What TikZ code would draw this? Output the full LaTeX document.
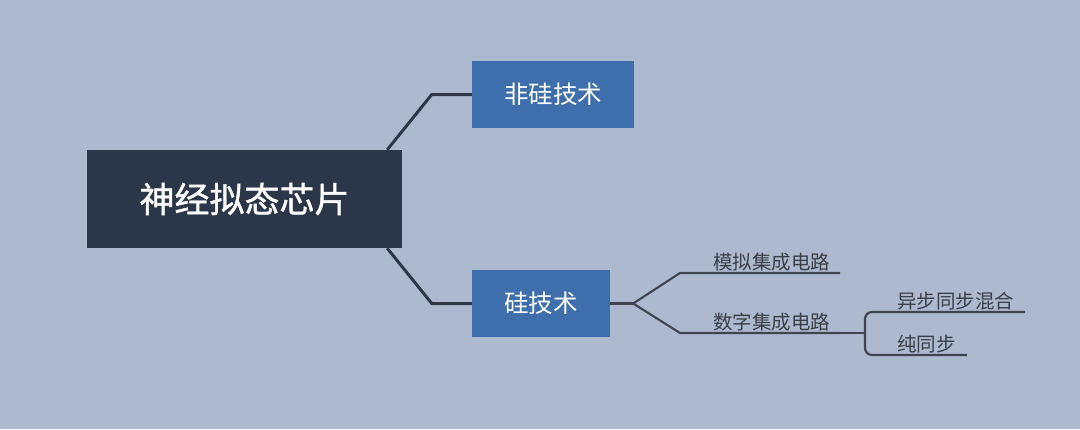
\documentclass[tikz,border=0pt]{standalone}
\usepackage{fontspec}
\setmainfont{Noto Sans CJK SC}
\newfontfamily\rootfont{Noto Sans CJK SC}[FakeBold=1.2]
\usetikzlibrary{positioning}

\definecolor{bgblue}{RGB}{173,185,206}
\definecolor{rootnavy}{RGB}{43,54,72}
\definecolor{boxblue}{RGB}{62,111,172}
\definecolor{linedark}{RGB}{46,55,72}
\definecolor{twiggray}{RGB}{62,68,80}
\definecolor{txtgray}{RGB}{58,62,70}

\tikzset{
  rootbox/.style={fill=rootnavy, text=white, inner sep=0pt,
    minimum width=315pt, minimum height=98pt, font=\rootfont\fontsize{35}{35}\selectfont},
  subbox/.style={fill=boxblue, text=white, inner sep=0pt,
    minimum height=67pt, font=\fontsize{24.5}{24.5}\selectfont},
  leaf/.style={text=txtgray, inner sep=1pt, font=\fontsize{19.5}{19.5}\selectfont},
  trunk/.style={draw=linedark, line width=3pt},
  twig/.style={draw=twiggray, line width=2.1pt}
}

\begin{document}
\begin{tikzpicture}[x=1pt,y=-1pt]
\fill[bgblue] (0,0) rectangle (1080,429);
\useasboundingbox (0,0) rectangle (1080,429);

% main topic and its two branches
\node[rootbox] (root) at (244.5,199) {神经拟态芯片};
\node[subbox, minimum width=162pt] (nonsi) at (553,94.5) {非硅技术};
\node[subbox, minimum width=138pt] (si) at (541,303.5) {硅技术};

\draw[trunk] ([xshift=-15pt]root.north east) -- ([xshift=-40pt]nonsi.west) -- (nonsi.west);
\draw[trunk] ([xshift=-15pt]root.south east) -- ([xshift=-40pt]si.west) -- (si.west);

% circuits under 硅技术
\coordinate (fork) at ([xshift=23pt]si.east);
\coordinate (anaL) at (680,273);
\coordinate (anaR) at (840,273);
\coordinate (digL) at (680,333);
\coordinate (digR) at (840,333);
\node[leaf, above right=1pt and 32pt of anaL] (ana) {模拟集成电路};
\node[leaf, above right=1pt and 32pt of digL] (dig) {数字集成电路};

\draw[twig] (si.east) -- (fork);
\draw[twig] (fork) -- (anaL) -- (anaR);
\draw[twig] (fork) -- (digL) -- (digR);

% sub-bracket of 数字集成电路
\coordinate (brk) at (865,333);
\coordinate (mixR) at (1025,312);
\coordinate (syncR) at (967,355);
\node[leaf, above right=1pt and 31pt of brk |- mixR] (mix) {异步同步混合};
\node[leaf, above right=1pt and 31pt of brk |- syncR] (sync) {纯同步};

\draw[twig] (digR) -- (brk);
\draw[twig, rounded corners=7pt] (mixR) -- (brk |- mixR) -- (brk |- syncR) -- (syncR);
\end{tikzpicture}
\end{document}
